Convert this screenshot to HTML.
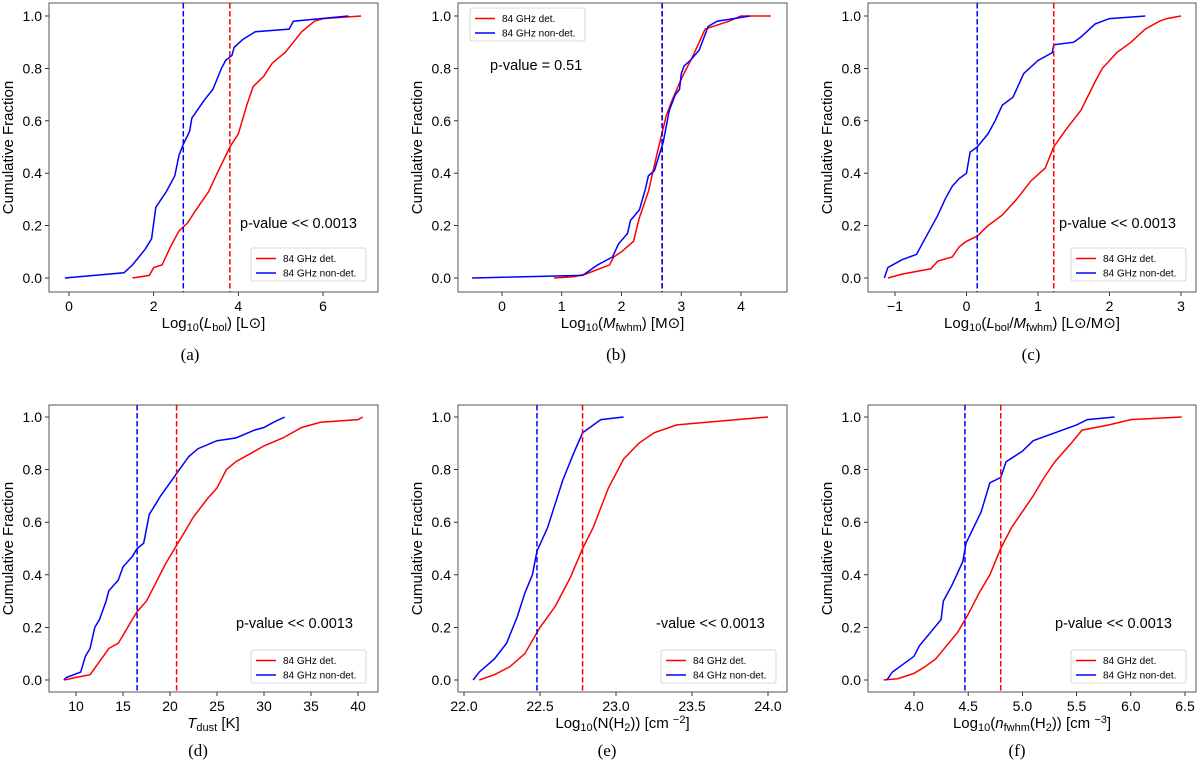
<!DOCTYPE html>
<html><head><meta charset="utf-8">
<style>
html,body{margin:0;padding:0;background:#fff;}
svg{display:block;font-family:"Liberation Sans","DejaVu Sans",sans-serif;}
</style></head>
<body>
<svg id="fig" width="1200" height="764" viewBox="0 0 1200 764" xmlns="http://www.w3.org/2000/svg"></svg>
<script>
// ---- data (x, cumulative fraction) ----
const aBlueX=[-0.1,1.3,1.5,1.8,1.95,2.05,2.3,2.5,2.6,2.7,2.85,2.9,3.2,3.4,3.6,3.7,3.85,3.9,4.1,4.4,5.2,5.3,6.6];
const aBlueY=[0,0.02,0.05,0.11,0.15,0.27,0.33,0.39,0.47,0.51,0.56,0.61,0.68,0.72,0.8,0.83,0.85,0.88,0.91,0.94,0.95,0.98,1.0];
const aRedX=[1.5,1.9,2.0,2.2,2.4,2.6,2.8,3.0,3.3,3.5,3.8,4.0,4.2,4.35,4.6,4.8,5.1,5.3,5.5,5.8,6.0,6.9];
const aRedY=[0,0.01,0.04,0.05,0.12,0.18,0.21,0.26,0.33,0.4,0.5,0.55,0.66,0.73,0.77,0.82,0.86,0.9,0.94,0.98,0.99,1.0];
const bBlueX=[-0.5,1.35,1.6,1.85,1.95,2.1,2.15,2.3,2.4,2.45,2.55,2.7,2.8,2.9,2.97,3.0,3.05,3.15,3.3,3.45,3.6,4.15];
const bBlueY=[0,0.01,0.05,0.08,0.13,0.17,0.22,0.26,0.34,0.39,0.41,0.52,0.64,0.7,0.72,0.78,0.81,0.83,0.87,0.96,0.98,1.0];
const bRedX=[0.87,1.2,1.4,1.8,1.87,2.0,2.2,2.3,2.45,2.6,2.75,2.85,3.0,3.2,3.3,3.4,3.8,4.0,4.5];
const bRedY=[0,0.005,0.015,0.05,0.08,0.1,0.14,0.23,0.33,0.48,0.62,0.68,0.76,0.85,0.9,0.95,0.98,1.0,1.0];
const cBlueX=[-1.15,-1.1,-0.9,-0.7,-0.6,-0.4,-0.3,-0.2,-0.1,0.0,0.05,0.15,0.3,0.4,0.5,0.65,0.8,1.0,1.2,1.22,1.5,1.6,1.8,2.0,2.5];
const cBlueY=[0,0.04,0.07,0.09,0.14,0.24,0.3,0.35,0.38,0.4,0.48,0.5,0.55,0.6,0.66,0.69,0.78,0.83,0.86,0.89,0.9,0.92,0.97,0.99,1.0];
const cRedX=[-1.1,-0.9,-0.5,-0.4,-0.2,-0.1,0.0,0.15,0.3,0.5,0.7,0.9,1.1,1.22,1.4,1.6,1.8,1.9,2.1,2.3,2.5,2.7,2.8,3.0];
const cRedY=[0,0.015,0.035,0.065,0.08,0.12,0.14,0.16,0.2,0.24,0.3,0.37,0.42,0.5,0.57,0.64,0.75,0.8,0.86,0.9,0.95,0.98,0.99,1.0];
const dBlueX=[8.7,9,10.5,11,11.5,12,12.5,13.2,13.5,14.5,15,16,16.5,17.2,17.8,18.5,19,20,21,22,23,25,27,29,30,31,32.2];
const dBlueY=[0,0.01,0.03,0.09,0.12,0.2,0.23,0.3,0.34,0.38,0.43,0.47,0.5,0.52,0.63,0.67,0.7,0.75,0.8,0.85,0.88,0.91,0.92,0.95,0.96,0.98,1.0];
const dRedX=[8.8,10,11.5,12.5,13.5,14.5,15.5,16.5,17.5,18.5,19.5,20.5,21.5,22.5,24,25,26,27,29,30,32,34,36,40,40.5];
const dRedY=[0,0.01,0.02,0.07,0.12,0.14,0.2,0.26,0.3,0.37,0.44,0.5,0.56,0.62,0.69,0.73,0.8,0.83,0.87,0.89,0.92,0.96,0.98,0.99,1.0];
const eBlueX=[22.06,22.1,22.2,22.28,22.35,22.4,22.45,22.48,22.55,22.6,22.65,22.72,22.78,22.9,23.05];
const eBlueY=[0,0.03,0.08,0.14,0.24,0.33,0.4,0.49,0.58,0.67,0.76,0.86,0.94,0.99,1.0];
const eRedX=[22.1,22.2,22.3,22.4,22.5,22.6,22.7,22.78,22.85,22.95,23.05,23.15,23.25,23.4,24.0];
const eRedY=[0,0.02,0.05,0.1,0.2,0.28,0.39,0.5,0.58,0.73,0.84,0.9,0.94,0.97,1.0];
const fBlueX=[3.75,3.8,3.9,4.0,4.05,4.15,4.25,4.27,4.35,4.45,4.48,4.55,4.62,4.7,4.8,4.85,5.0,5.1,5.3,5.5,5.6,5.85];
const fBlueY=[0,0.03,0.06,0.09,0.13,0.18,0.23,0.3,0.36,0.45,0.52,0.58,0.64,0.75,0.77,0.83,0.87,0.91,0.94,0.97,0.99,1.0];
const fRedX=[3.72,3.85,4.0,4.1,4.2,4.3,4.4,4.5,4.6,4.7,4.8,4.9,5.0,5.1,5.2,5.3,5.45,5.55,5.8,6.0,6.47];
const fRedY=[0,0.005,0.025,0.05,0.08,0.13,0.18,0.25,0.33,0.4,0.5,0.58,0.64,0.7,0.77,0.83,0.9,0.95,0.97,0.99,1.0];
const medians={a:[2.7,3.8],b:[2.68,2.68],c:[0.15,1.22],d:[16.5,20.7],e:[22.48,22.78],f:[4.47,4.8]};
const yTicks=[0,0.2,0.4,0.6,0.8,1.0];
const xTicksA=[0,2,4,6], xTicksB=[0,1,2,3,4], xTicksC=[-1,0,1,2,3], xTicksD=[10,15,20,25,30,35,40],
      xTicksE=[22.0,22.5,23.0,23.5,24.0], xTicksF=[4.0,4.5,5.0,5.5,6.0,6.5];

const NS='http://www.w3.org/2000/svg';
const svg=document.getElementById('fig');
function mk(tag,attrs,parent){const e=document.createElementNS(NS,tag);for(const k in attrs)e.setAttribute(k,attrs[k]);(parent||svg).appendChild(e);return e;}

const panels=[
 {id:'a',L:49,R:378,T:3,B:292,x0:0,px0:69,x1:6,px1:323,y0:278,y1:16,ticks:xTicksA,dec:0,blue:[aBlueX,aBlueY],red:[aRedX,aRedY],
  xlabel:'Log<tspan font-size="11" dy="3">10</tspan><tspan dy="-3">(</tspan><tspan font-style="italic">L</tspan><tspan font-size="11" dy="3">bol</tspan><tspan dy="-3">) [L⊙]</tspan>',
  lg:[251,248],pt:'p-value << 0.0013',ptx:240,pty:228,cap:'(a)',capx:190,capy:360},
 {id:'b',L:458,R:787,T:3,B:292,x0:0,px0:502,x1:4,px1:741,y0:278,y1:16,ticks:xTicksB,dec:0,blue:[bBlueX,bBlueY],red:[bRedX,bRedY],
  xlabel:'Log<tspan font-size="11" dy="3">10</tspan><tspan dy="-3">(</tspan><tspan font-style="italic">M</tspan><tspan font-size="11" dy="3">fwhm</tspan><tspan dy="-3">) [M⊙]</tspan>',
  lg:[470,8],pt:'p-value = 0.51',ptx:490,pty:70,cap:'(b)',capx:616,capy:360},
 {id:'c',L:868,R:1196,T:3,B:292,x0:-1,px0:895,x1:3,px1:1181,y0:278,y1:16,ticks:xTicksC,dec:0,blue:[cBlueX,cBlueY],red:[cRedX,cRedY],
  xlabel:'Log<tspan font-size="11" dy="3">10</tspan><tspan dy="-3">(</tspan><tspan font-style="italic">L</tspan><tspan font-size="11" dy="3">bol</tspan><tspan dy="-3">/</tspan><tspan font-style="italic">M</tspan><tspan font-size="11" dy="3">fwhm</tspan><tspan dy="-3">) [L⊙/M⊙]</tspan>',
  lg:[1071,248],pt:'p-value << 0.0013',ptx:1059,pty:228,cap:'(c)',capx:1031,capy:360},
 {id:'d',L:49,R:378,T:405,B:692,x0:10,px0:76,x1:40,px1:358,y0:680,y1:417,ticks:xTicksD,dec:0,blue:[dBlueX,dBlueY],red:[dRedX,dRedY],
  xlabel:'<tspan font-style="italic">T</tspan><tspan font-size="11" dy="3">dust</tspan><tspan dy="-3"> [K]</tspan>',
  lg:[251,650],pt:'p-value << 0.0013',ptx:236,pty:628,cap:'(d)',capx:198,capy:756},
 {id:'e',L:458,R:787,T:405,B:692,x0:22,px0:464,x1:24,px1:768,y0:680,y1:417,ticks:xTicksE,dec:1,blue:[eBlueX,eBlueY],red:[eRedX,eRedY],
  xlabel:'Log<tspan font-size="11" dy="3">10</tspan><tspan dy="-3">(N(H</tspan><tspan font-size="11" dy="3">2</tspan><tspan dy="-3">)) [cm </tspan><tspan font-size="11" dy="-5">−2</tspan><tspan dy="5">]</tspan>',
  lg:[661,650],pt:'-value << 0.0013',ptx:656,pty:628,cap:'(e)',capx:607,capy:756},
 {id:'f',L:868,R:1196,T:405,B:692,x0:4,px0:914,x1:6.5,px1:1185,y0:680,y1:417,ticks:xTicksF,dec:1,blue:[fBlueX,fBlueY],red:[fRedX,fRedY],
  xlabel:'Log<tspan font-size="11" dy="3">10</tspan><tspan dy="-3">(</tspan><tspan font-style="italic">n</tspan><tspan font-size="11" dy="3">fwhm</tspan><tspan dy="-3">(H</tspan><tspan font-size="11" dy="3">2</tspan><tspan dy="-3">)) [cm </tspan><tspan font-size="11" dy="-5">−3</tspan><tspan dy="5">]</tspan>',
  lg:[1071,650],pt:'p-value << 0.0013',ptx:1055,pty:628,cap:'(f)',capx:1017,capy:756}
];

panels.forEach(p=>{
  const sx=v=>p.px0+(v-p.x0)*(p.px1-p.px0)/(p.x1-p.x0);
  const sy=v=>p.y0+(v)*(p.y1-p.y0);
  const g=mk('g',{});
  
  
  const clipId='clip'+p.id;
  const cp=mk('clipPath',{id:clipId},g);mk('rect',{x:p.L,y:p.T,width:p.R-p.L,height:p.B-p.T},cp);
  yTicks.forEach(v=>{
    const y=sy(v);
    mk('line',{x1:p.L-4,x2:p.L,y1:y,y2:y,stroke:'#000','stroke-width':0.8},g);
    const t=mk('text',{x:p.L-7,y:y+5,'text-anchor':'end','font-size':14},g);t.textContent=v.toFixed(1);
    
    
  });
  p.ticks.forEach(v=>{
    const x=sx(v);
    mk('line',{x1:x,x2:x,y1:p.B,y2:p.B+4,stroke:'#000','stroke-width':0.8},g);
    const t=mk('text',{x:x,y:p.B+19,'text-anchor':'middle','font-size':14},g);t.textContent=(v<0?'−'+Math.abs(v).toFixed(p.dec):v.toFixed(p.dec));
    
    
  });
  const yl=mk('text',{x:0,y:0,'text-anchor':'middle','font-size':15,transform:`translate(${p.L-36},${(p.T+p.B)/2}) rotate(-90)`},g);
  yl.textContent='Cumulative Fraction';
  
  
  const xl=mk('text',{x:(p.L+p.R)/2,y:p.B+36,'text-anchor':'middle','font-size':15},g);
  xl.innerHTML=p.xlabel;
  
  
  const lines=mk('g',{'clip-path':`url(#${clipId})`},g);
  [['red','#ff0000'],['blue','#0000ff']].forEach(([k,c])=>{
    const [X,Y]=p[k];
    const pl=mk('polyline',{points:X.map((x,i)=>sx(x).toFixed(1)+','+sy(Y[i]).toFixed(1)).join(' '),fill:'none',stroke:c,'stroke-width':1.5},lines);
    
    
  });
  const med=medians[p.id];
  [[med[1],'#ff0000','red'],[med[0],'#0000ff','blue']].forEach(([v,c,k])=>{
    const ln=mk('line',{x1:sx(v),x2:sx(v),y1:p.T,y2:p.B,stroke:c,'stroke-width':1.5,'stroke-dasharray':'5.5,2.5'},lines);
    
    
  });
  mk('rect',{x:p.L,y:p.T,width:p.R-p.L,height:p.B-p.T,fill:'none',stroke:'#444','stroke-width':0.9},g);
  const lg=mk('g',{},g);
  
  
  const [lx,ly]=p.lg;
  mk('rect',{x:lx,y:ly,width:115,height:33,rx:2,fill:'#fff',stroke:'#ccc','stroke-width':0.8},lg);
  [['84 GHz det.','#ff0000'],['84 GHz non-det.','#0000ff']].forEach(([s,c],i)=>{
    const yy=ly+10.5+i*14.5;
    mk('line',{x1:lx+5,x2:lx+25,y1:yy,y2:yy,stroke:c,'stroke-width':1.5},lg);
    const t=mk('text',{x:lx+32,y:yy+3.5,'font-size':10},lg);t.textContent=s;
    
    
  });
  const pt=mk('text',{x:p.ptx,y:p.pty,'font-size':14.5},g);pt.textContent=p.pt;
  
  
  const cap=mk('text',{x:p.capx,y:p.capy,'text-anchor':'middle','font-size':17,'font-family':'Liberation Serif, serif'},g);cap.textContent=p.cap;
  
  
});
</script>
</body></html>
